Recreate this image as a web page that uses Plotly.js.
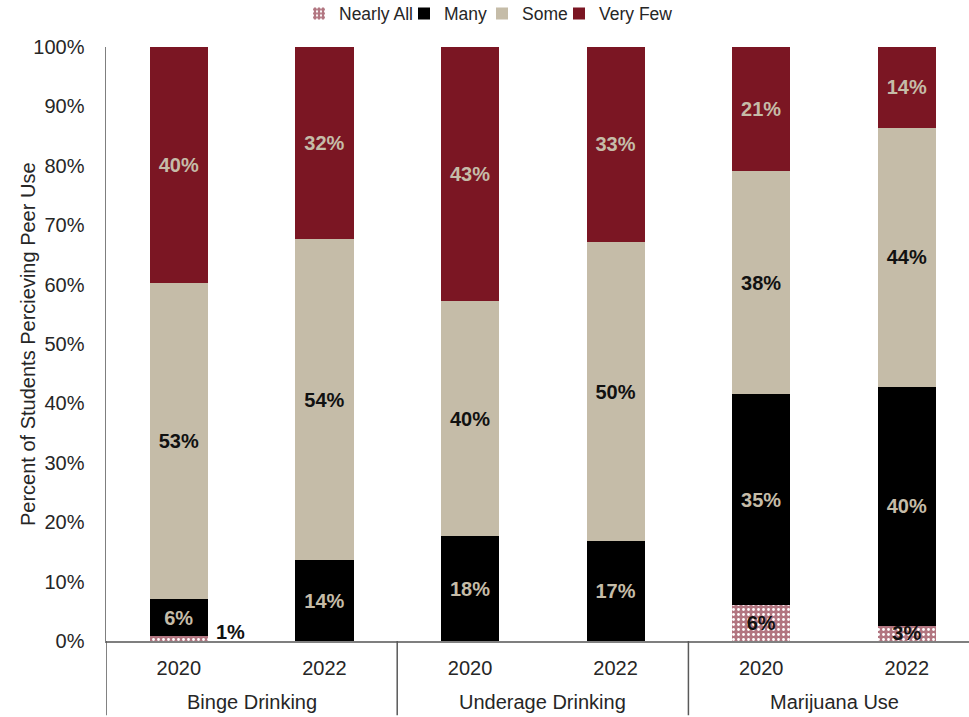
<!DOCTYPE html>
<html>
<head>
<meta charset="utf-8">
<script src="https://cdn.plot.ly/plotly-3.0.1.min.js"></script>
<style>html,body{margin:0;padding:0;background:#fff;}#chart{width:969px;height:717px;}</style>
</head>
<body>
<div id="chart"></div>
<script>
var groups = ["Binge Drinking", "Binge Drinking", "Underage Drinking", "Underage Drinking", "Marijuana Use", "Marijuana Use"];
var years = ["2020", "2022", "2020", "2022", "2020", "2022"];
var seriesNames = ["Nearly All", "Many", "Some", "Very Few"];
var nearlyAll = [0.8, 0, 0, 0, 6.1, 2.6];
var many = [6.3, 13.6, 17.6, 16.8, 35.4, 40.2];
var some = [53.2, 54.0, 39.6, 50.4, 37.6, 43.6];
var veryFew = [39.7, 32.4, 42.8, 32.8, 20.9, 13.6];
var nearlyAllLabels = ["", "", "", "", "6%", "3%"];
var outsideLabel = "1%";
var yTitle = "Percent of Students Percieving Peer Use";

function pct(arr) { return arr.map(function (v) { return v > 0 ? Math.round(v) + "%" : ""; }); }

var cats = groups.map(function (g, i) { return g + " " + years[i]; });
var fontFam = "Liberation Sans, Arial, sans-serif";
var beige = "#c5bca8";
var maroon = "#7b1623";
var textDark = "#262626";
var legendIds = ["legend", "legend2", "legend3", "legend4"];
var legendLeftPx = [299, 404, 482, 559];

function barTrace(idx, vals, text, color, textColor, pattern) {
  var t = {
    type: "bar", name: seriesNames[idx], legend: legendIds[idx], x: cats, y: vals, text: text,
    textposition: "inside", insidetextanchor: "middle", constraintext: "none",
    textfont: {family: fontFam, size: 20, color: textColor, weight: "bold"},
    marker: {color: color, line: {width: 0}},
    hoverinfo: "none", cliponaxis: false
  };
  if (pattern) t.marker.pattern = pattern;
  return t;
}

var data = [
  barTrace(0, nearlyAll, nearlyAllLabels, "#b27681", "#111111",
    {shape: ".", fgcolor: "#ffffff", bgcolor: "#b27681", size: 5, solidity: 0.25}),
  barTrace(1, many, pct(many), "#000000", beige),
  barTrace(2, some, pct(some), beige, "#111111"),
  barTrace(3, veryFew, pct(veryFew), maroon, beige)
];

// group labels and dividers of the two-level category axis
var annotations = [];
var shapes = [];
var start = 0;
for (var i = 1; i <= groups.length; i++) {
  if (i === groups.length || groups[i] !== groups[start]) {
    annotations.push({
      xref: "x", yref: "paper", x: (start + i - 1) / 2, y: 0, text: groups[start],
      showarrow: false, xanchor: "center", yanchor: "top", yshift: -49, borderpad: 0,
      font: {family: fontFam, size: 20, color: textDark}
    });
    shapes.push({type: "line", xref: "x", yref: "paper", x0: start - 0.5, x1: start - 0.5, y0: 0, y1: -0.125,
      line: {color: "#595959", width: 1.5}});
    start = i;
  }
}
shapes.push({type: "line", xref: "x", yref: "paper", x0: groups.length - 0.5, x1: groups.length - 0.5, y0: 0, y1: -0.125,
  line: {color: "#595959", width: 1.5}});

annotations.push({
  xref: "x", yref: "y", x: 0, y: nearlyAll[0], text: "<b>" + outsideLabel + "</b>",
  showarrow: false, xanchor: "left", yanchor: "bottom", xshift: 35, yshift: -9,
  font: {family: fontFam, size: 20, color: "#111111"}
});

annotations.push({
  xref: "paper", yref: "paper", x: 0, y: 0.5, xshift: -78, text: yTitle, textangle: -90,
  showarrow: false, xanchor: "center", yanchor: "middle", borderpad: 0,
  font: {family: fontFam, size: 20, color: textDark}
});

var layout = {
  width: 969, height: 717,
  margin: {l: 106, r: 0, t: 47, b: 76},
  barmode: "stack",
  bargap: 0.6,
  paper_bgcolor: "#fff", plot_bgcolor: "#fff",
  font: {family: fontFam, size: 20, color: textDark},
  showlegend: true,
  xaxis: {
    type: "category", range: [-0.5, 5.427],
    tickvals: cats, ticktext: years,
    showline: true, linecolor: "#7f7f7f", linewidth: 1.5,
    ticks: "", ticklabelstandoff: 8, tickfont: {size: 20, color: textDark}, showgrid: false, zeroline: false
  },
  yaxis: {
    range: [0, 100], dtick: 10, ticksuffix: "%",
    showline: true, linecolor: "#7f7f7f", linewidth: 1.5,
    showgrid: false, zeroline: false, ticks: "", ticklabelstandoff: 16,
    tickfont: {size: 20, color: textDark}
  },
  annotations: annotations,
  shapes: shapes
};

legendIds.forEach(function (id, k) {
  layout[id] = {
    orientation: "h", xref: "container", yref: "container",
    x: legendLeftPx[k] / 969, xanchor: "left", y: 0.981, yanchor: "middle",
    font: {size: 17.5, color: textDark}, itemwidth: 30, bgcolor: "rgba(0,0,0,0)"
  };
});

Plotly.newPlot("chart", data, layout, {displayModeBar: false, staticPlot: true});
</script>
</body>
</html>
